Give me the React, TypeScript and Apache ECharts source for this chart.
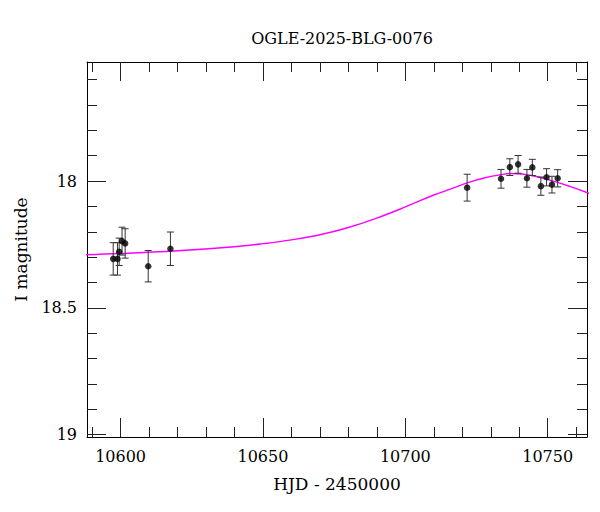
import React, { useEffect, useRef } from "react";
import * as echarts from "echarts";

const titleText = "OGLE-2025-BLG-0076";
const xName = "HJD - 2450000";
const yName = "I magnitude";

const hjd = [10597.4, 10598.9, 10599.5, 10600.5, 10601.6, 10609.7, 10617.5, 10721.7, 10733.6, 10736.7, 10739.6, 10742.7, 10744.6, 10747.6, 10749.6, 10751.5, 10753.5];
const mag = [18.307, 18.307, 18.279, 18.237, 18.246, 18.336, 18.267, 18.026, 17.991, 17.945, 17.934, 17.989, 17.946, 18.02, 17.985, 18.014, 17.989];
const magErr = [0.064, 0.064, 0.054, 0.055, 0.058, 0.062, 0.066, 0.053, 0.037, 0.033, 0.035, 0.035, 0.032, 0.036, 0.034, 0.033, 0.034];

const modelHJD = [10584, 10600, 10620, 10640, 10650, 10660, 10670, 10680, 10690, 10700, 10710, 10717, 10722, 10728, 10733, 10737, 10741, 10746, 10752, 10758, 10764, 10770];
const modelMag = [18.292, 18.286, 18.275, 18.259, 18.247, 18.232, 18.212, 18.183, 18.146, 18.102, 18.055, 18.027, 18.006, 17.987, 17.976, 17.97, 17.972, 17.982, 18.0, 18.022, 18.046, 18.072];

const xMajor = [10600, 10650, 10700, 10750];
const xMinor = [10590, 10600, 10610, 10620, 10630, 10640, 10650, 10660, 10670, 10680, 10690, 10700, 10710, 10720, 10730, 10740, 10750, 10760];
const yMajor = [18, 18.5, 19];
const yMinor = [17.6, 17.7, 17.8, 17.9, 18, 18.1, 18.2, 18.3, 18.4, 18.5, 18.6, 18.7, 18.8, 18.9, 19];

const X_MIN = 10588.2;
const X_MAX = 10763.8;
const Y_MIN = 17.53;
const Y_MAX = 19.01;

const FONT = "DejaVu Serif";

export default function App() {
  const ref = useRef<HTMLDivElement>(null);
  useEffect(() => {
    document.body.style.margin = "0";
    if (!ref.current) return;
    const chart = echarts.init(ref.current, null, { renderer: "svg" });
    const lineStyle = { color: "#000", width: 1 };
    const tickStyle = { color: "#222", width: 1 };
    const mkX = (pos: string, major: boolean, labels: boolean, showLine: boolean) => ({
      type: "value",
      position: pos,
      min: X_MIN,
      max: X_MAX,
      gridIndex: 0,
      name: labels ? xName : "",
      nameLocation: "middle",
      nameGap: 38,
      nameTextStyle: { fontFamily: FONT, fontSize: 17, color: "#000" },
      axisLine: { show: showLine, onZero: false, lineStyle },
      axisTick: { show: true, inside: true, length: major ? 19 : 10, customValues: major ? xMajor : xMinor, lineStyle: tickStyle },
      axisLabel: labels
        ? { show: true, customValues: xMajor, margin: 11, fontFamily: FONT, fontSize: 16, color: "#000", formatter: (v: number) => String(v) }
        : { show: false },
      splitLine: { show: false },
    });
    const mkY = (pos: string, major: boolean, labels: boolean, showLine: boolean) => ({
      type: "value",
      position: pos,
      inverse: true,
      min: Y_MIN,
      max: Y_MAX,
      gridIndex: 0,
      name: labels ? yName : "",
      nameLocation: "middle",
      nameGap: 58,
      nameRotate: 90,
      nameTextStyle: { fontFamily: FONT, fontSize: 17, color: "#000" },
      axisLine: { show: showLine, onZero: false, lineStyle },
      axisTick: { show: true, inside: true, length: major ? 19 : 10, customValues: major ? yMajor : yMinor, lineStyle: tickStyle },
      axisLabel: labels
        ? { show: true, customValues: yMajor, margin: 10, fontFamily: FONT, fontSize: 16, color: "#000", formatter: (v: number) => String(v) }
        : { show: false },
      splitLine: { show: false },
    });

    const errData = hjd.map((d, i) => [d, mag[i], magErr[i]]);
    const ptData = hjd.map((d, i) => [d, mag[i]]);
    const modelData = modelHJD.map((d, i) => [d, modelMag[i]]);

    chart.setOption({
      animation: false,
      backgroundColor: "#fff",
      title: {
        text: titleText,
        left: 337,
        top: 25,
        textAlign: "center",
        textStyle: { fontFamily: FONT, fontSize: 16, fontWeight: "normal", color: "#000" },
      },
      grid: { left: 87, right: 13, top: 62, bottom: 75 },
      xAxis: [mkX("bottom", true, true, true), mkX("bottom", false, false, false), mkX("top", true, false, true), mkX("top", false, false, false)],
      yAxis: [mkY("left", true, true, true), mkY("left", false, false, false), mkY("right", true, false, true), mkY("right", false, false, false)],
      series: [
        {
          type: "line",
          data: modelData,
          xAxisIndex: 0,
          yAxisIndex: 0,
          smooth: 0.4,
          showSymbol: false,
          symbol: "none",
          clip: true,
          lineStyle: { color: "#ff00ff", width: 1.4 },
          z: 2,
        },
        {
          type: "custom",
          xAxisIndex: 0,
          yAxisIndex: 0,
          data: errData,
          encode: { x: 0, y: 1 },
          z: 3,
          renderItem: (params: any, api: any) => {
            const x = api.value(0);
            const m = api.value(1);
            const e = api.value(2);
            const t = api.coord([x, m - e]);
            const b = api.coord([x, m + e]);
            const w = 3.5;
            const st = { stroke: "#333", lineWidth: 1 };
            return {
              type: "group",
              children: [
                { type: "line", shape: { x1: t[0], y1: t[1], x2: b[0], y2: b[1] }, style: st },
                { type: "line", shape: { x1: t[0] - w, y1: t[1], x2: t[0] + w, y2: t[1] }, style: st },
                { type: "line", shape: { x1: b[0] - w, y1: b[1], x2: b[0] + w, y2: b[1] }, style: st },
              ],
            };
          },
        },
        {
          type: "scatter",
          xAxisIndex: 0,
          yAxisIndex: 0,
          data: ptData,
          symbol: "circle",
          symbolSize: 6.5,
          itemStyle: { color: "#000" },
          z: 4,
        },
      ],
    });
    return () => chart.dispose();
  }, []);
  return <div ref={ref} style={{ width: 600, height: 512 }} />;
}
